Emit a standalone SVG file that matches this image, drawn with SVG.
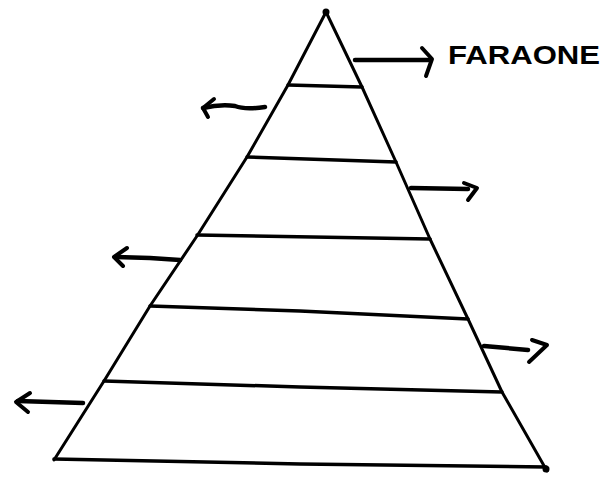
<svg xmlns="http://www.w3.org/2000/svg" width="603" height="477" viewBox="0 0 603 477">
<style>
.edge{fill:none;stroke:#000;stroke-width:3;stroke-linecap:round;stroke-linejoin:round}
.lvl{fill:none;stroke:#000;stroke-width:3.5;stroke-linecap:round;stroke-linejoin:round}
.arr{fill:none;stroke:#000;stroke-width:4.5;stroke-linecap:round;stroke-linejoin:round}
.head{fill:none;stroke:#000;stroke-width:4;stroke-linecap:round;stroke-linejoin:round}
.lbl{font-family:"Liberation Sans",Arial,sans-serif;font-weight:bold;font-size:26px;fill:#000}
</style>
<rect width="603" height="477" fill="#fff"/>
<g id="pyramid">
<path class="edge" d="M326,12 L288,85 L247,157 L197,236 L150,306 L104,381 L54,460"/>
<path class="edge" d="M326,12 L362,87 L396,162 L430,239 L468,319 L502,392 L547,471"/>
<circle cx="326" cy="12" r="3.5" fill="#000"/>
<circle cx="546" cy="469" r="3.5" fill="#000"/>
</g>
<g id="levels">
<path class="lvl" d="M288,85 L362,87"/>
<path class="lvl" d="M247,157 L396,162"/>
<path class="lvl" d="M197,235 L430,239"/>
<path class="lvl" d="M150,306 L300,311 L468,319"/>
<path class="lvl" d="M104,381 L300,387 L502,392"/>
<path class="lvl" d="M54,459 L300,464 L546,467"/>
</g>
<g id="connectors">
<path class="arr" d="M355,60 L430,60"/>
<path class="head" d="M422,48 L432,59 L426,76"/>
<path class="arr" d="M265,107 Q245,110 235,106 Q220,104 203,108"/>
<path class="head" d="M214,99 L203,108 L208,117"/>
<path class="arr" d="M411,188 L468,189"/>
<path class="head" d="M464,183 L477,188 L468,200"/>
<path class="arr" d="M180,260 L150,258 L116,257"/>
<path class="head" d="M127,248 L114,257 L123,266"/>
<path class="arr" d="M484,346 L528,350"/>
<path class="head" d="M532,340 L547,345 L529,362"/>
<path class="arr" d="M83,403 L18,401"/>
<path class="head" d="M30,393 L16,402 L28,412"/>
</g>
<g id="faraone">
<text class="lbl" x="448" y="64" textLength="152" lengthAdjust="spacingAndGlyphs">FARAONE</text>
</g>
</svg>
